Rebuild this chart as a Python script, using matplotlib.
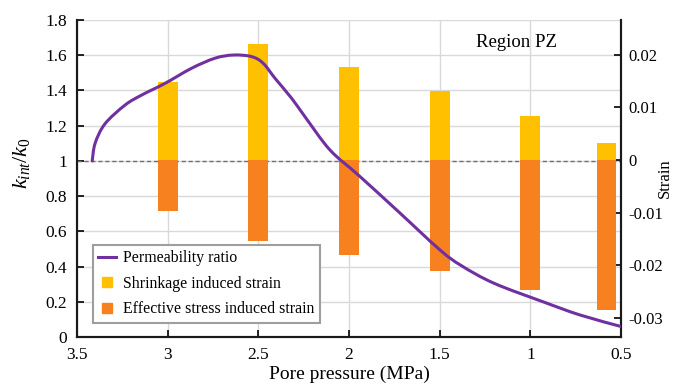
import matplotlib
matplotlib.use("Agg")
import matplotlib.pyplot as plt
from matplotlib.lines import Line2D
from matplotlib.path import Path
from matplotlib.patches import PathPatch
from matplotlib.ticker import FuncFormatter, MultipleLocator

plt.rcParams["font.family"] = ["Liberation Serif", "DejaVu Serif"]
plt.rcParams["axes.unicode_minus"] = False
plt.rcParams["mathtext.fontset"] = "custom"
plt.rcParams["mathtext.rm"] = "Liberation Serif"
plt.rcParams["mathtext.it"] = "Liberation Serif:italic"

# Permeability ratio curve (pore pressure in MPa, k_int/k_0)
pressure = [3.416, 3.40, 3.346, 3.235, 3.143, 3.015, 2.868, 2.739, 2.638, 2.537,
            2.473, 2.408, 2.316, 2.243, 2.105, 1.949, 1.737, 1.498, 1.38, 1.2,
            0.93, 0.726, 0.494]
perm_ratio = [1.0, 1.10, 1.21, 1.317, 1.374, 1.44, 1.526, 1.583, 1.601, 1.592,
              1.554, 1.469, 1.355, 1.251, 1.062, 0.920, 0.721, 0.494, 0.405, 0.305,
              0.20, 0.125, 0.058]

# Strain components at the pressure steps
bar_pressure = [3.0, 2.5, 2.0, 1.5, 1.0, 0.58]
shrinkage_strain = [0.0149, 0.0220, 0.0176, 0.0131, 0.0083, 0.0033]
stress_strain = [-0.0096, -0.0153, -0.0180, -0.0211, -0.0246, -0.0285]

x_ticks = [3.5, 3.0, 2.5, 2.0, 1.5, 1.0, 0.5]

purple = "#7030A0"
yellow = "#FFC000"
orange = "#F7801F"


def smooth_path(xs, ys):
    """Catmull-Rom style cubic Bezier path through the given points."""
    pts = list(zip(xs, ys))
    n = len(pts)
    verts = [pts[0]]
    codes = [Path.MOVETO]
    for i in range(n - 1):
        p0 = pts[i - 1] if i > 0 else pts[i]
        p1 = pts[i]
        p2 = pts[i + 1]
        p3 = pts[i + 2] if i + 2 < n else pts[i + 1]
        c1 = (p1[0] + (p2[0] - p0[0]) / 6, p1[1] + (p2[1] - p0[1]) / 6)
        c2 = (p2[0] - (p3[0] - p1[0]) / 6, p2[1] - (p3[1] - p1[1]) / 6)
        verts += [c1, c2, p2]
        codes += [Path.CURVE4] * 3
    return Path(verts, codes)


fig = plt.figure(figsize=(6.74, 3.84), dpi=100)
pos = [77 / 674, 1 - 337 / 384, (621 - 77) / 674, (337 - 20) / 384]
ax = fig.add_axes(pos)
ax2 = ax.twinx()
ax3 = fig.add_axes(pos, sharex=ax, sharey=ax)
ax3.patch.set_visible(False)
ax3.axis("off")

fs = 12.5
ax.set_xlim(3.5, 0.5)
ax.set_ylim(0, 1.8)
ax2.set_ylim(-0.0336, 0.0266)

ax.set_xticks(x_ticks)
ax.xaxis.set_major_formatter(FuncFormatter(lambda v, p: f"{v:g}"))
ax.yaxis.set_major_locator(MultipleLocator(0.2))
ax.yaxis.set_major_formatter(FuncFormatter(lambda v, p: f"{round(v, 1):g}"))
ax2.set_yticks([-0.03, -0.02, -0.01, 0, 0.01, 0.02])
ax2.yaxis.set_major_formatter(FuncFormatter(lambda v, p: f"{round(v, 2):g}"))

ax.grid(True, color="#D9D9D9", linewidth=1.0)
ax.set_axisbelow(True)
ax.axhline(1.0, color="#707070", linestyle=(0, (3, 2)), linewidth=1.0, zorder=1)

for a in (ax, ax2):
    a.spines["top"].set_visible(False)
    for s in ("left", "right", "bottom"):
        a.spines[s].set_linewidth(1.5)
        a.spines[s].set_color("#1a1a1a")
    a.tick_params(direction="in", length=5, width=1.2, labelsize=fs, pad=7)
ax.tick_params(axis="y", right=False)
ax2.tick_params(axis="y", labelsize=12, pad=5)

ax2.bar(bar_pressure, shrinkage_strain, width=0.11, color=yellow, zorder=2)
ax2.bar(bar_pressure, stress_strain, width=0.11, color=orange, zorder=2)

ax3.add_patch(PathPatch(smooth_path(pressure, perm_ratio), facecolor="none",
                        edgecolor=purple, linewidth=2.2, zorder=5,
                        capstyle="round"))

ax.set_xlabel("Pore pressure (MPa)", fontsize=14, labelpad=2)
ax.set_ylabel(r"$k_{\mathit{int}}/k_0$", fontsize=16)
ax.yaxis.set_label_coords(-0.083, 0.55)
ax2.set_ylabel("Strain", fontsize=12)
ax2.yaxis.set_label_coords(1.066, 0.5)

ax3.text(0.807, 0.93, "Region PZ", transform=ax.transAxes, fontsize=13.5,
         ha="center", va="center")

handles = [
    Line2D([], [], color=purple, linewidth=2.2),
    Line2D([], [], color=yellow, marker="s", markersize=7, linestyle="none"),
    Line2D([], [], color=orange, marker="s", markersize=7, linestyle="none"),
]
labels = ["Permeability ratio", "Shrinkage induced strain",
          "Effective stress induced strain"]
leg = ax3.legend(handles, labels, loc="lower left", bbox_to_anchor=(0.029, 0.045),
                 fontsize=11.4, frameon=True, fancybox=False, handlelength=1.1,
                 handletextpad=0.45, borderpad=0.35, labelspacing=0.6,
                 borderaxespad=0)
leg.get_frame().set_edgecolor("#9E9E9E")
leg.get_frame().set_linewidth(1.5)
leg.get_frame().set_facecolor("white")
leg.get_frame().set_alpha(1)

fig.savefig("out.png", dpi=100)
